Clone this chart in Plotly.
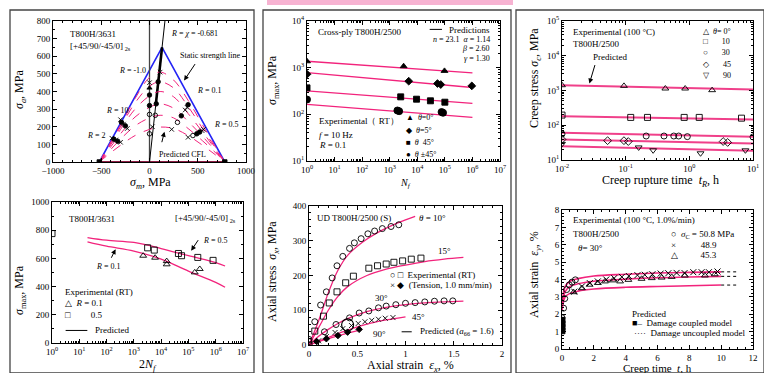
import plotly.graph_objects as go

W, H = 764, 373
PINK = '#f2237c'
BLUE = '#2424f5'
FONT = 'Liberation Serif'

# ---------------- Panel A: constant life diagram ----------------
static_x = [-520, 130, 780]
static_y = [0, 650, 0]
chi_x = [0, 160]
chi_y = [0, 800]
cfl_x = [-520, -420, -300, -150, 0, 110, 250, 400, 550, 680, 780]
cfl_y1 = [0, 45, 95, 150, 185, 198, 190, 150, 95, 42, 0]
cfl_y2 = [0, 60, 130, 205, 250, 265, 250, 190, 120, 55, 0]
cfl_y3 = [0, 72, 160, 255, 310, 330, 305, 230, 145, 65, 0]
cfl_y4 = [0, 82, 185, 300, 375, 400, 370, 275, 170, 75, 0]
cfl_y5 = [0, 90, 200, 335, 430, 455, 420, 315, 190, 82, 0]
cfl_y6 = [0, 95, 210, 360, 480, 510, 465, 350, 210, 90, 0]
expA_x = [0, 0, 0, 0, 0, 0, 30, 60, 70, 90, 110,
          230, 290, 330, 370, 390, 400,
          400, 450, 490, 520, 545, 560,
          -300, -290, -270, -250, -230,
          -390, -370, -350, -330, -300, -520, 780]
expA_y = [160, 270, 320, 380, 420, 450, 200, 265, 330, 455, 510,
          185, 225, 262, 295, 310, 325,
          140, 150, 160, 170, 178, 185,
          240, 225, 215, 205, 190,
          135, 130, 125, 118, 112, 0, 0]
expA_sym = ['circle-open', 'circle-open', 'circle', 'circle', 'triangle-up', 'x-thin', 'x-thin', 'circle-open', 'circle', 'circle', 'x-thin',
            'x-thin', 'circle-open', 'circle', 'x-thin', 'x-thin', 'circle',
            'x-thin', 'circle-open', 'circle', 'circle', 'x-thin', 'x-thin',
            'x-thin', 'circle', 'x-thin', 'circle', 'x-thin',
            'x-thin', 'circle', 'x-thin', 'circle', 'x-thin', 'square', 'square']

# ---------------- Panel B: S-N (laminate) ----------------
predB_n = [20, 100, 1000, 1e4, 1e5, 1e6, 2.2e6]
predB_r05 = [748, 729, 713, 670, 619, 570, 546]
predB_r01 = [718, 687, 652, 595, 510, 430, 395]
expB_r01_n = [2.2e3, 6e3, 1.6e4, 1.6e4, 1.7e5, 2.6e5]
expB_r01_s = [619, 605, 581, 558, 501, 525]
expB_r05_n = [1, 3.2e3, 5.6e3, 4.3e4, 5.6e4, 2.2e5, 8e5]
expB_r05_s = [776, 675, 659, 635, 619, 607, 586]

# ---------------- Panel C: cross-ply S-N ----------------
predC_n = [1, 1e6]
predC_0 = [1374, 773]
predC_5 = [785, 376]
predC_45 = [318, 171]
predC_pm45 = [163, 86]
expC_0_n = [1, 3.2e3, 9.7e4]
expC_0_s = [1370, 1074, 853]
expC_5_n = [1, 4.9e3, 5.4e4, 7.1e4, 9.5e5]
expC_5_s = [724, 513, 457, 435, 407]
expC_45_n = [1, 2.5e3, 9.4e3, 3e4, 1e5]
expC_45_s = [369, 237, 211, 195, 182]
expC_pm45_n = [1, 1.9e3, 2.2e3, 7.6e4, 8.6e4]
expC_pm45_s = [208, 121, 117, 112, 108]

# ---------------- Panel D: stress-strain ----------------
predD_10_e = [0, 0.1, 0.2, 0.3, 0.4, 0.55, 0.7, 0.85, 1.0, 1.1]
predD_10_s = [0, 70, 150, 215, 258, 295, 322, 343, 360, 370]
predD_15_e = [0, 0.1, 0.2, 0.3, 0.4, 0.6, 0.8, 1.0, 1.2, 1.4, 1.6]
predD_15_s = [0, 50, 100, 140, 168, 200, 218, 230, 240, 247, 252]
predD_30_e = [0, 0.1, 0.2, 0.3, 0.4, 0.6, 0.8, 1.0, 1.2, 1.4, 1.6]
predD_30_s = [0, 25, 45, 62, 76, 96, 108, 116, 121, 124, 126]
predD_45_e = [0, 0.2, 0.4, 0.6, 0.8, 1.0]
predD_45_s = [0, 22, 43, 60, 72, 81]
predD_90_e = [0, 0.2, 0.4, 0.55]
predD_90_s = [0, 18, 34, 45]
expD_10_e = [0, 0.06, 0.12, 0.18, 0.24, 0.29, 0.35, 0.42, 0.47, 0.54, 0.61, 0.68, 0.76, 0.85, 0.93]
expD_10_s = [16, 67, 115, 153, 193, 228, 255, 278, 294, 306, 320, 328, 335, 341, 346]
expD_15_e = [0, 0.06, 0.15, 0.21, 0.29, 0.38, 0.46, 0.62, 0.71, 0.8, 0.88, 0.97, 1.06, 1.16]
expD_15_s = [0, 40, 83, 121, 153, 179, 198, 221, 228, 233, 238, 242, 247, 250]
expD_30_e = [0, 0.16, 0.28, 0.42, 0.52, 0.62, 0.72, 0.8, 0.9, 1.0, 1.1, 1.2, 1.3, 1.4, 1.49]
expD_30_s = [10, 38, 59, 78, 92, 98, 107, 112, 116, 120, 122, 124, 126, 127, 127]
expD_45_e = [0.1, 0.18, 0.27, 0.35, 0.44, 0.51, 0.58, 0.65, 0.72, 0.79, 0.87]
expD_45_s = [12, 24, 36, 47, 56, 62, 67, 71, 74, 77, 79]
expD_90_e = [0.08, 0.18, 0.3, 0.4, 0.52]
expD_90_s = [10, 18, 27, 37, 45]

# ---------------- Panel E: creep rupture ----------------
predE_t = [0.01, 10]
predE_0 = [1423, 1069]
predE_10 = [183, 147]
predE_30 = [61, 47]
predE_45 = [39, 30]
predE_90 = [25, 18.6]
expE_0_t = [0.01, 0.094, 0.42, 0.86, 2.28]
expE_0_s = [1420, 1360, 1140, 1140, 1023]
expE_10_t = [0.01, 0.12, 0.22, 0.83, 1.43, 6.6]
expE_10_s = [196, 168, 168, 168, 168, 160]
expE_30_t = [0.01, 0.21, 0.4, 0.57, 0.68, 0.93, 10]
expE_30_s = [56, 49, 49, 49, 49, 47, 46]
expE_45_t = [0.01, 0.052, 0.094, 0.11, 3.4, 4.0]
expE_45_s = [39, 36, 36, 34, 34, 32]
expE_90_t = [0.01, 0.16, 0.27, 1.5, 7.6]
expE_90_s = [29, 23, 19, 15.6, 19]

# ---------------- Panel F: creep strain ----------------
predF_t = [0.0, 0.2, 0.5, 1, 2, 4, 6, 8, 10]
predF_508 = [2.5, 3.6, 3.9, 4.05, 4.2, 4.3, 4.37, 4.41, 4.44]
predF_489 = [2.3, 3.3, 3.6, 3.75, 3.9, 4.02, 4.1, 4.14, 4.18]
predF_453 = [2.2, 3.0, 3.2, 3.33, 3.45, 3.55, 3.6, 3.64, 3.68]
uncF_t = [10, 11.1]
expF_508_t = [0.0, 0.1, 0.17, 0.29, 0.46, 0.63, 0.84]
expF_508_e = [1.8, 2.35, 2.9, 3.42, 3.69, 3.85, 3.98]
expF_489_t = [0.77, 1.25, 1.75, 2.25, 2.78, 3.28, 3.76, 4.2, 4.74, 5.2, 5.68, 6.2, 6.68, 7.2, 7.7, 8.25, 8.77, 9.23, 9.77]
expF_489_e = [3.3, 3.6, 3.79, 3.89, 4.0, 4.08, 4.15, 4.2, 4.25, 4.27, 4.3, 4.34, 4.36, 4.38, 4.37, 4.42, 4.42, 4.42, 4.46]
expF_453_t = [0.73, 1.25, 1.73, 2.25, 2.7, 3.2, 3.65, 4.17, 5.0, 5.64, 6.26, 6.89, 7.72, 8.98, 9.6]
expF_453_e = [3.27, 3.5, 3.7, 3.8, 3.89, 3.95, 3.89, 3.98, 4.04, 4.08, 4.11, 4.15, 4.23, 4.23, 4.3]
coupled_t = [0, 0, 0, 0]
coupled_e = [1.05, 1.25, 1.45, 1.65]

fig = go.Figure()


def px(v):
    return v / W


def py(v):
    return 1 - v / H


def line(ax, x, y, color=PINK, width=1.3, dash='solid', shape='linear'):
    fig.add_trace(go.Scatter(x=x, y=y, mode='lines', xaxis='x' + ax, yaxis='y' + ax,
                             line=dict(color=color, width=width, dash=dash, shape=shape, smoothing=1.0),
                             hoverinfo='skip', showlegend=False))


def pts(ax, x, y, symbol, size=5, lw=0.9, color='black'):
    fig.add_trace(go.Scatter(x=x, y=y, mode='markers', xaxis='x' + ax, yaxis='y' + ax,
                             marker=dict(symbol=symbol, size=size, color=color,
                                         line=dict(color=color, width=lw)),
                             hoverinfo='skip', showlegend=False))


# Panel A
line('', static_x, static_y, color=BLUE, width=1.6)
line('', [-520, 780], [0, 0], color='#8e1f45', width=2.2)
line('', [0, 0], [0, 800], color='#444', width=1.3)
line('', chi_x, chi_y, color='black', width=1)
line('', [66, 130], [330, 650], color='black', width=2.6)
for cy in [cfl_y1, cfl_y2, cfl_y3, cfl_y4, cfl_y5, cfl_y6]:
    line('', cfl_x, cy, color=PINK, width=1, dash='dash', shape='spline')
pts('', expA_x, expA_y, expA_sym, size=4.5)

# Panel B
line('2', predB_n, predB_r05, shape='spline')
line('2', predB_n, predB_r01, shape='spline')
pts('2', expB_r01_n, expB_r01_s, 'triangle-up-open', size=6)
pts('2', expB_r05_n, expB_r05_s, 'square-open', size=6)

# Panel C
for s in [predC_0, predC_5, predC_45, predC_pm45]:
    line('3', predC_n, s)
pts('3', expC_0_n, expC_0_s, 'triangle-up', size=6)
pts('3', expC_5_n, expC_5_s, 'diamond', size=6)
pts('3', expC_45_n, expC_45_s, 'square', size=6)
pts('3', expC_pm45_n, expC_pm45_s, 'circle', size=7)

# Panel D
line('4', predD_10_e, predD_10_s, shape='spline')
line('4', predD_15_e, predD_15_s, shape='spline')
line('4', predD_30_e, predD_30_s, shape='spline')
line('4', predD_45_e, predD_45_s, shape='spline')
line('4', predD_90_e, predD_90_s, shape='spline')
pts('4', expD_10_e, expD_10_s, 'circle-open', size=6)
pts('4', expD_15_e, expD_15_s, 'square-open', size=6)
pts('4', expD_30_e, expD_30_s, 'circle-open', size=6)
pts('4', expD_45_e, expD_45_s, 'x-thin', size=5)
pts('4', expD_90_e, expD_90_s, 'diamond', size=5)
pts('4', [0.4], [58], 'circle-open', size=12, lw=1.2)

# Panel E
for s in [predE_0, predE_10, predE_30, predE_45, predE_90]:
    line('5', predE_t, s, color='#f0408a', width=2)
pts('5', expE_0_t, expE_0_s, 'triangle-up-open', size=6)
pts('5', expE_10_t, expE_10_s, 'square-open', size=6)
pts('5', expE_30_t, expE_30_s, 'circle-open', size=6)
pts('5', expE_45_t, expE_45_s, 'diamond-open', size=6)
pts('5', expE_90_t, expE_90_s, 'triangle-down-open', size=6)

# Panel F
for s in [predF_508, predF_489, predF_453]:
    line('6', predF_t, s, color=PINK, width=1.6, shape='spline')
for s in [predF_508[-1], predF_489[-1], predF_453[-1]]:
    line('6', uncF_t, [s, s], color='black', width=1, dash='dot')
pts('6', expF_508_t, expF_508_e, 'circle-open', size=6)
pts('6', expF_489_t, expF_489_e, 'x-thin', size=6, lw=1)
pts('6', expF_453_t, expF_453_e, 'triangle-up-open', size=6)
pts('6', coupled_t, coupled_e, 'square', size=6)


def log_ticks(lo, hi):
    vals = [10 ** k for k in range(lo, hi + 1)]
    txt = ['10<sup>%d</sup>' % k for k in range(lo, hi + 1)]
    minor = [m * 10 ** k for k in range(lo, hi) for m in range(2, 10)]
    return vals, txt, minor


tickfont = dict(family=FONT, size=9, color='black')


def axis(domain, anchor, rng, dtick=None, minor_dtick=None, log=None):
    d = dict(domain=domain, anchor=anchor, range=rng, showline=True, linecolor='black', linewidth=1,
             mirror='allticks', ticks='inside', ticklen=4, tickcolor='black', showgrid=False,
             zeroline=False, tickfont=tickfont, automargin=False)
    if log is not None:
        vals, txt, minor = log_ticks(*log)
        d.update(type='log', tickmode='array', tickvals=vals, ticktext=txt,
                 minor=dict(tickmode='array', tickvals=minor, ticks='inside', ticklen=2, tickcolor='black'))
    else:
        d.update(dtick=dtick, tick0=0)
        if minor_dtick:
            d['minor'] = dict(dtick=minor_dtick, ticks='inside', ticklen=2, tickcolor='black')
    return d


fig.update_layout(
    width=W, height=H, margin=dict(l=0, r=0, t=0, b=0, pad=0, autoexpand=False),
    paper_bgcolor='white', plot_bgcolor='white', showlegend=False,
    font=dict(family=FONT, color='black'),
    xaxis=axis([px(53), px(246)], 'y', [-1000, 1000], 500, 100),
    yaxis=axis([py(162), py(21)], 'x', [0, 800], 100, 50),
    xaxis2=axis([px(52), px(243)], 'y2', [0, 7], log=(0, 7)),
    yaxis2=axis([py(343), py(202)], 'x2', [0, 1000], 200, 100),
    xaxis3=axis([px(307), px(500)], 'y3', [0, 7], log=(0, 7)),
    yaxis3=axis([py(161), py(21)], 'x3', [1, 4], log=(1, 4)),
    xaxis4=axis([px(309), px(502)], 'y4', [0, 2], 0.5, 0.1),
    yaxis4=axis([py(345), py(206)], 'x4', [0, 400], 100, 20),
    xaxis5=axis([px(562), px(753)], 'y5', [-2, 1], log=(-2, 1)),
    yaxis5=axis([py(160), py(21)], 'x5', [1, 5], log=(1, 5)),
    xaxis6=axis([px(562), px(753)], 'y6', [0, 12], 2, 0.5),
    yaxis6=axis([py(349), py(210)], 'x6', [0, 8], 1, 0.2),
)

shapes = [
    dict(type='rect', xref='paper', yref='paper', x0=px(267), x1=px(513), y0=py(5), y1=1,
         fillcolor='#f7b3d2', line=dict(width=0), layer='below'),
    dict(type='rect', xref='paper', yref='paper', x0=px(10), x1=px(254), y0=0, y1=py(10),
         line=dict(color='#444', width=1.3), fillcolor='rgba(0,0,0,0)'),
    dict(type='rect', xref='paper', yref='paper', x0=px(263), x1=px(511), y0=0, y1=py(10),
         line=dict(color='#444', width=1.3), fillcolor='rgba(0,0,0,0)'),
    dict(type='rect', xref='paper', yref='paper', x0=px(516), x1=1, y0=0, y1=py(10),
         line=dict(color='#444', width=1.3), fillcolor='rgba(0,0,0,0)'),
]
fig.update_layout(shapes=shapes)

anns = []


def A(ax, x, y, text, size=8.5, xanchor='left', **kw):
    d = dict(xref='x' + ax, yref='y' + ax, x=x, y=y, text=text, showarrow=False,
             xanchor=xanchor, yanchor='middle', font=dict(family=FONT, size=size, color='black'))
    d.update(kw)
    anns.append(d)


def arrow(ax, x, y, dx, dy):
    anns.append(dict(xref='x' + ax, yref='y' + ax, x=x, y=y, text='', showarrow=True, ax=dx, ay=dy,
                     arrowhead=2, arrowsize=1, arrowwidth=1, arrowcolor='black'))


def P(x, y, text, size=12, angle=0):
    anns.append(dict(xref='paper', yref='paper', x=px(x), y=py(y), text=text, showarrow=False,
                     textangle=angle, xanchor='center', yanchor='middle',
                     font=dict(family=FONT, size=size, color='black')))


# axis titles
P(20, 90, '<i>σ</i><sub><i>a</i></sub>, MPa', angle=-90)
P(150, 183, '<i>σ</i><sub><i>m</i></sub>, MPa')
P(20, 290, '<i>σ</i><sub>max</sub>, MPa', angle=-90)
P(148, 365, '2<i>N</i><sub><i>f</i></sub>')
P(273, 80, '<i>σ</i><sub>max</sub>, MPa', angle=-90)
P(405, 183, '<i>N</i><sub><i>f</i></sub>', size=10)
P(273, 272, 'Axial stress  <i>σ</i><sub><i>x</i></sub>, MPa', angle=-90)
P(410, 366, 'Axial strain  <i>ε</i><sub><i>x</i></sub>, %')
P(535, 78, 'Creep stress <i>σ</i><sub><i>c</i></sub>, MPa', angle=-90)
P(660, 181, 'Creep rupture time  <i>t</i><sub><i>R</i></sub>, h')
P(535, 275, 'Axial strain  <i>ε</i><sub><i>y</i></sub>, %', angle=-90)
P(657, 367.5, 'Creep time  <i>t</i>, h', size=11)

# Panel A annotations
A('', -845, 728, 'T800H/3631', size=9)
A('', -845, 655, '[+45/90/-45/0]<sub> 2s</sub>', size=9)
A('', 200, 728, '<i>R</i> = <i>χ</i> = -0.681', size=8)
A('', 300, 605, 'Static strength line', size=8)
arrow('', 358, 462, 12, -18)
A('', -180, 520, '<i>R</i> = -1.0', size=8, xanchor='center')
A('', 470, 403, '<i>R</i> = 0.1', size=8)
A('', -470, 293, '<i>R</i> = 10', size=8)
A('', -670, 153, '<i>R</i> = 2', size=8)
A('', 645, 214, '<i>R</i> = 0.5', size=8)
A('', 75, 40, 'Predicted CFL', size=8)
arrow('', 155, 172, -3, 12)

# Panel B annotations
A('2', 0.55, 882, 'T800H/3631', size=9)
A('2', 4.45, 882, '[+45/90/-45/0]<sub> 2s</sub>', size=9)
A('2', 5.45, 729, '<i>R</i> = 0.5', size=8)
arrow('2', 5.1, 655, 8, -12)
A('2', 1.55, 541, '<i>R</i> = 0.1', size=8)
arrow('2', 2.33, 665, -5, 10)
A('2', 0.42, 365, 'Experimental (RT)', size=9)
A('2', 0.42, 282, '△  <i>R</i> = 0.1', size=9)
A('2', 0.42, 200, '□         0.5', size=9)
A('2', 1.5, 89, 'Predicted', size=9)
anns.append(dict(xref='x2', yref='y2', x=0.5, y=89, ax=1.35, ay=89, axref='x2', ayref='y2',
                 showarrow=True, arrowhead=0, arrowwidth=1, arrowcolor='black', text=''))

# Panel C annotations
A('3', 0.34, 3.765, 'Cross-ply T800H/2500', size=9)
A('3', 6.7, 3.8, 'Predictions', size=9, xanchor='right')
anns.append(dict(xref='x3', yref='y3', x=4.45, y=3.82, ax=4.95, ay=3.82, axref='x3', ayref='y3',
                 showarrow=True, arrowhead=0, arrowwidth=1, arrowcolor='black', text=''))
A('3', 6.7, 3.61, '<i>n</i> = 23.1  <i>α</i> = 1.14', size=8, xanchor='right')
A('3', 6.7, 3.41, '<i>β</i> = 2.60', size=8, xanchor='right')
A('3', 6.7, 3.19, '<i>γ</i> = 1.30', size=8, xanchor='right')
A('3', 0.37, 1.86, 'Experimental（ RT）', size=9)
A('3', 0.37, 1.55, '<i>f</i> = 10 Hz', size=9)
A('3', 0.37, 1.35, '<i>R</i> = 0.1', size=9)
A('3', 3.52, 1.93, '▲  <i>θ</i>=0°', size=8)
A('3', 3.52, 1.66, '◆  <i>θ</i>=5°', size=8)
A('3', 3.52, 1.39, '■  <i>θ</i>  45°', size=8)
A('3', 3.52, 1.13, '●  <i>θ</i> ±45°', size=8)

# Panel D annotations
A('4', 0.06, 366, 'UD T800H/2500 (S)', size=9)
A('4', 1.12, 366, '<i>θ</i> = 10°', size=9)
A('4', 1.32, 270, '15°', size=9)
A('4', 0.66, 134, '30°', size=9)
A('4', 1.05, 81, '45°', size=9)
A('4', 0.64, 33, '90°', size=9)
A('4', 0.82, 201, '○ □  Experimental (RT)', size=9)
A('4', 0.82, 174, '× ◆  (Tension, 1.0 mm/min)', size=9)
A('4', 1.13, 38, 'Predicted (<i>a</i><sub>66</sub> = 1.6)', size=9)
anns.append(dict(xref='x4', yref='y4', x=0.96, y=38, ax=1.08, ay=38, axref='x4', ayref='y4',
                 showarrow=True, arrowhead=0, arrowwidth=1, arrowcolor='black', text=''))

# Panel E annotations
A('5', -1.86, 4.68, 'Experimental (100 °C)', size=9)
A('5', -1.86, 4.35, 'T800H/2500', size=9)
A('5', -1.55, 3.95, 'Predicted', size=9)
arrow('5', -1.57, 3.2, 6, -20)
A('5', 0.18, 4.71, '△  <i>θ</i>= 0°', size=8)
A('5', 0.18, 4.40, '□       10', size=8)
A('5', 0.18, 4.08, '○       30', size=8)
A('5', 0.18, 3.76, '◇       45', size=8)
A('5', 0.18, 3.44, '▽       90', size=8)

# Panel F annotations
A('6', 0.58, 7.43, 'Experimental (100 °C, 1.0%/min)', size=9)
A('6', 0.58, 6.6, 'T800H/2500', size=9)
A('6', 0.9, 5.84, '<i>θ</i>= 30°', size=9)
A('6', 6.7, 6.6, '○  <i>σ</i><sub>C</sub> = 50.8 MPa', size=9)
A('6', 6.75, 6.0, '×           48.9', size=9)
A('6', 6.7, 5.4, '△          45.3', size=9)
A('6', 4.28, 2.0, 'Predicted', size=9)
A('6', 4.3, 1.49, '■–  Damage coupled model', size=9)
A('6', 4.4, 0.92, '····  Damage uncoupled model', size=9)

fig.update_layout(annotations=anns)
fig.write_html('out.html', config={'displayModeBar': False},
               post_script="document.body.style.margin='0';document.body.style.overflow='hidden';")
